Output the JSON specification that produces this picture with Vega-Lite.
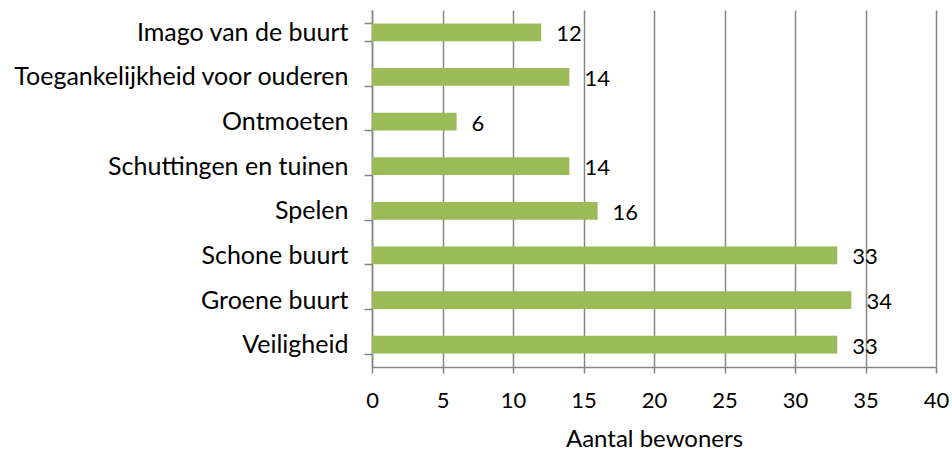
{
  "$schema": "https://vega.github.io/schema/vega-lite/v6.json",
  "width": 564,
  "height": 357,
  "autosize": "none",
  "padding": {"left": 372, "top": 10, "right": 16, "bottom": 88},
  "background": "white",
  "config": {"view": {"stroke": null}, "font": "Lato"},
  "data": {
    "values": [
      {"categorie": "Imago van de buurt", "aantal": 12},
      {"categorie": "Toegankelijkheid voor ouderen", "aantal": 14},
      {"categorie": "Ontmoeten", "aantal": 6},
      {"categorie": "Schuttingen en tuinen", "aantal": 14},
      {"categorie": "Spelen", "aantal": 16},
      {"categorie": "Schone buurt", "aantal": 33},
      {"categorie": "Groene buurt", "aantal": 34},
      {"categorie": "Veiligheid", "aantal": 33}
    ]
  },
  "encoding": {
    "y": {
      "field": "categorie",
      "type": "nominal",
      "sort": null,
      "scale": {"paddingInner": 0.6, "paddingOuter": 0.3},
      "axis": {
        "title": null,
        "labelFont": "Lato",
        "labelFontSize": 25,
        "labelColor": "#000000",
        "labelPadding": 16,
        "labelLimit": 400,
        "domainColor": "#868686",
        "domainWidth": 1.5,
        "tickColor": "#868686",
        "tickWidth": 1.5,
        "tickSize": 8,
        "tickBand": "extent",
        "grid": false
      }
    },
    "x": {
      "field": "aantal",
      "type": "quantitative",
      "scale": {"domain": [0, 40], "nice": false},
      "axis": {
        "title": "Aantal bewoners",
        "titleFont": "Lato",
        "titleFontSize": 24,
        "titleFontWeight": "normal",
        "titleColor": "#000000",
        "titlePadding": 16,
        "values": [0, 5, 10, 15, 20, 25, 30, 35, 40],
        "labelFont": "Lato",
        "labelFontSize": 22,
        "labelColor": "#000000",
        "labelPadding": 17,
        "labelFlush": false,
        "domainColor": "#868686",
        "domainWidth": 1.5,
        "tickColor": "#868686",
        "tickWidth": 1.5,
        "tickSize": 6,
        "grid": true,
        "gridColor": "#868686",
        "gridWidth": 1.5
      }
    }
  },
  "layer": [
    {"mark": {"type": "bar", "color": "#9BBB59"}},
    {
      "mark": {"type": "text", "align": "left", "baseline": "middle", "dx": 15, "dy": 2, "fontSize": 22, "font": "Lato", "color": "#000000"},
      "encoding": {"text": {"field": "aantal", "type": "quantitative"}}
    }
  ]
}
